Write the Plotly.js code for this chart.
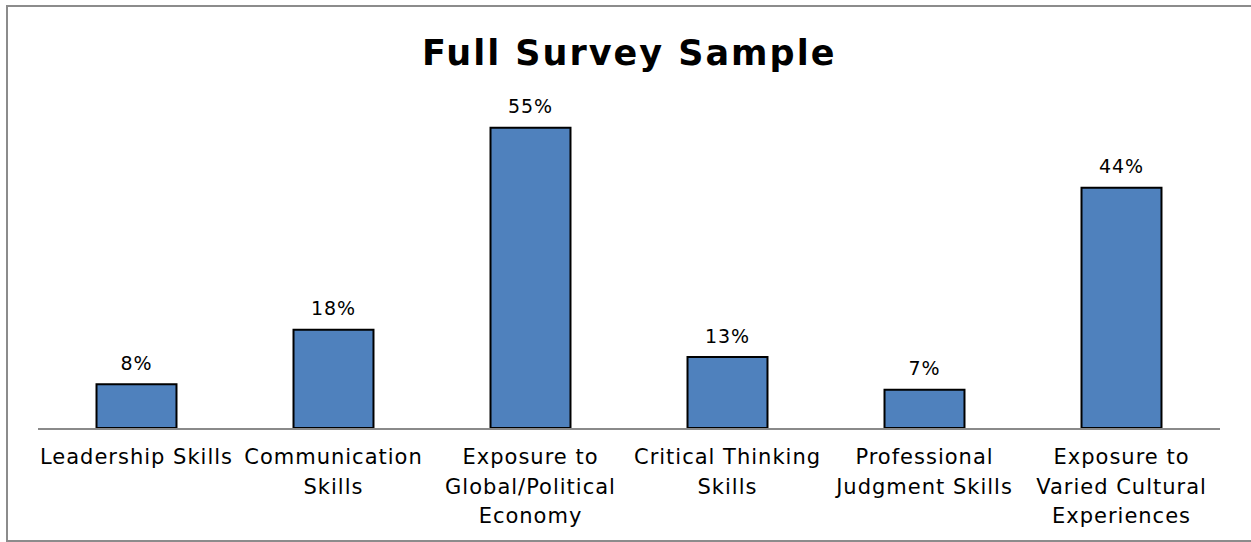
<!DOCTYPE html>
<html>
<head>
<meta charset="utf-8">
<script src="https://cdn.plot.ly/plotly-3.0.1.min.js"></script>
<style>
  html, body { margin: 0; padding: 0; background: #fff; overflow: hidden; }
  #frame { position: absolute; left: 6px; top: 5px; width: 1260px; height: 537px; border: 2px solid #8c8c8c; border-right: none; box-sizing: border-box; }
  #chart { position: absolute; left: 0; top: 0; width: 1251px; height: 542px; }
  #chart .xtick text { letter-spacing: 1px; }
  #chart .textpoint text { letter-spacing: 1px; }
  #chart .gtitle { letter-spacing: 2px; }
</style>
</head>
<body>
<div id="frame"></div>
<div id="chart"></div>
<script>
const categories = [
  "Leadership Skills",
  "Communication<br>Skills",
  "Exposure to<br>Global/Political<br>Economy",
  "Critical Thinking<br>Skills",
  "Professional<br>Judgment Skills",
  "Exposure to<br>Varied Cultural<br>Experiences"
];
const values = [8, 18, 55, 13, 7, 44];
const valueLabels = ["8%", "18%", "55%", "13%", "7%", "44%"];

const FONT = "DejaVu Sans, Verdana, sans-serif";
const LABEL_PX = 21;
const tickText = categories.map(c => c.split("<br>").map(l => '<span style="font-size:' + LABEL_PX + 'px">' + l + '</span>').join("<br>"));

const bars = {
  type: "bar",
  x: categories,
  y: values,
  marker: { color: "#4F81BD", line: { color: "#000000", width: 2 } },
  hoverinfo: "skip",
  showlegend: false
};
const labels = {
  type: "scatter",
  mode: "markers+text",
  x: categories,
  y: values,
  text: valueLabels,
  textposition: "top center",
  textfont: { family: FONT, size: 19, color: "#000" },
  marker: { size: 14, opacity: 0 },
  hoverinfo: "skip",
  showlegend: false,
  cliponaxis: false
};

const layout = {
  width: 1251,
  height: 542,
  margin: { l: 38, r: 31, t: 90, b: 114 },
  paper_bgcolor: "rgba(0,0,0,0)",
  plot_bgcolor: "rgba(0,0,0,0)",
  bargap: 0.594,
  title: {
    text: "<b>Full Survey Sample</b>",
    font: { family: FONT, size: 35, color: "#000" },
    x: 0.503, xanchor: "center",
    y: 0.902, yanchor: "middle", yref: "container"
  },
  xaxis: {
    type: "category",
    tickmode: "array",
    tickvals: categories,
    ticktext: tickText,
    tickfont: { family: FONT, size: 23, color: "#000" },
    ticklabelstandoff: 6,
    showline: true,
    linecolor: "#8a8a8a",
    linewidth: 2,
    ticks: "",
    showgrid: false,
    zeroline: false,
    fixedrange: true
  },
  yaxis: {
    range: [0, 61.9],
    visible: false,
    showgrid: false,
    zeroline: false,
    fixedrange: true
  },
  font: { family: FONT, color: "#000" }
};

Plotly.newPlot("chart", [bars, labels], layout, { displayModeBar: false, staticPlot: true });
</script>
</body>
</html>
